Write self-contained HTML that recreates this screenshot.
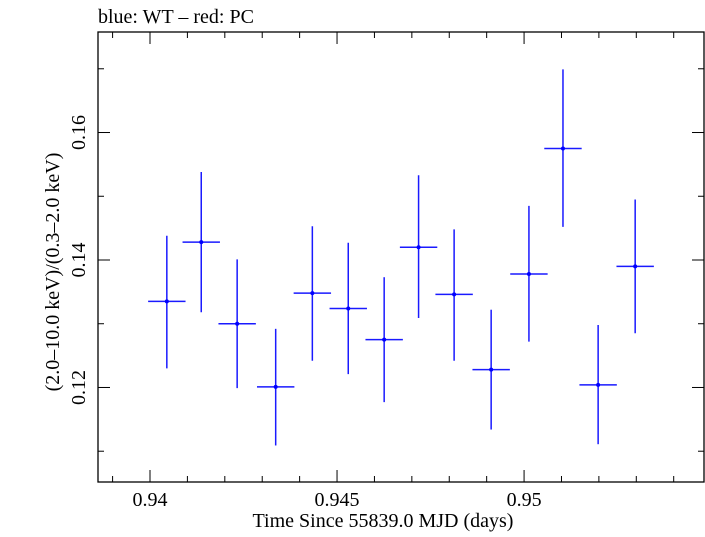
<!DOCTYPE html>
<html><head><meta charset="utf-8"><style>
body{margin:0;background:#fff;}
svg text{font-family:"Liberation Serif",serif;fill:#000;}
</style></head><body>
<svg id="chart" width="705" height="532" viewBox="0 0 705 532" xmlns="http://www.w3.org/2000/svg">
<text x="98" y="23" font-size="20">blue: WT – red: PC</text>
<rect x="98" y="32" width="606" height="450" fill="none" stroke="#000" stroke-width="1.3"/>
<g id="ticks"></g>
<g id="marks"></g>
<text x="383" y="527" font-size="20" text-anchor="middle">Time Since 55839.0 MJD (days)</text>
<text transform="translate(59,272) rotate(-90)" font-size="20" text-anchor="middle">(2.0–10.0 keV)/(0.3–2.0 keV)</text>
</svg>
<script>
const times=[0.94045,0.94137,0.94233,0.94336,0.94434,0.9453,0.94626,0.94718,0.94813,0.94912,0.95013,0.95104,0.95198,0.95297];
const ratios=[0.1335,0.1428,0.1300,0.1201,0.1348,0.1324,0.1275,0.1420,0.1346,0.1228,0.1378,0.1575,0.1204,0.1390];
const errHi=[0.1438,0.1538,0.1401,0.1292,0.1453,0.1427,0.1373,0.1533,0.1448,0.1322,0.1485,0.1699,0.1298,0.1495];
const errLo=[0.1230,0.1318,0.1199,0.1109,0.1242,0.1221,0.1177,0.1309,0.1242,0.1134,0.1272,0.1452,0.1111,0.1285];
const timeHalfWidth=[0.0005,0.0005,0.0005,0.0005,0.0005,0.0005,0.0005,0.0005,0.0005,0.0005,0.0005,0.0005,0.0005,0.0005];
const xTickLabels=["0.94","0.945","0.95"];
const yTickLabels=["0.12","0.14","0.16"];
const X0=98,X1=704,Y0=32,Y1=482,XMIN=0.93861,XMAX=0.95481,YMIN=0.10517,YMAX=0.17577;
function sx(v){return X0+(v-XMIN)/(XMAX-XMIN)*(X1-X0);}
function sy(v){return Y1-(v-YMIN)/(YMAX-YMIN)*(Y1-Y0);}
const NS="http://www.w3.org/2000/svg";
function mk(tag,attrs,parent){const e=document.createElementNS(NS,tag);for(const k in attrs)e.setAttribute(k,attrs[k]);parent.appendChild(e);return e;}
const tk=document.getElementById('ticks');
for(let i=939;i<=954;i++){const v=i/1000;const x=sx(v);if(x<X0||x>X1)continue;const major=(i%5===0);const L=major?12:6;
const t1=mk('line',{x1:x,x2:x,y1:Y1,y2:Y1-L,stroke:'#000','stroke-width':1},tk);


const t2=mk('line',{x1:x,x2:x,y1:Y0,y2:Y0+L,stroke:'#000','stroke-width':1},tk);

}
xTickLabels.forEach(s=>{const t=mk('text',{x:sx(parseFloat(s)),y:506,'font-size':20,'text-anchor':'middle'},tk);t.textContent=s;

});
for(let i=11;i<=17;i++){const v=i/100;const y=sy(v);const major=(i%2===0);const L=major?12:6;
const t1=mk('line',{x1:X0,x2:X0+L,y1:y,y2:y,stroke:'#000','stroke-width':1},tk);


const t2=mk('line',{x1:X1,x2:X1-L,y1:y,y2:y,stroke:'#000','stroke-width':1},tk);

}
yTickLabels.forEach(s=>{const y=sy(parseFloat(s));const t=mk('text',{transform:`translate(85,${y}) rotate(-90)`,'font-size':20,'text-anchor':'middle'},tk);t.textContent=s;

});
const mg=document.getElementById('marks');
times.forEach((t,i)=>{const g=mk('g',{},mg);


const x=sx(t),y=sy(ratios[i]);
mk('line',{x1:x,x2:x,y1:sy(errHi[i]),y2:sy(errLo[i]),stroke:'#1a1aff','stroke-width':1.5},g);
mk('line',{x1:sx(t-timeHalfWidth[i]),x2:sx(t+timeHalfWidth[i]),y1:y,y2:y,stroke:'#1a1aff','stroke-width':1.5},g);
mk('circle',{cx:x,cy:y,r:2,fill:'#0000ff'},g);});
</script>
</body></html>
